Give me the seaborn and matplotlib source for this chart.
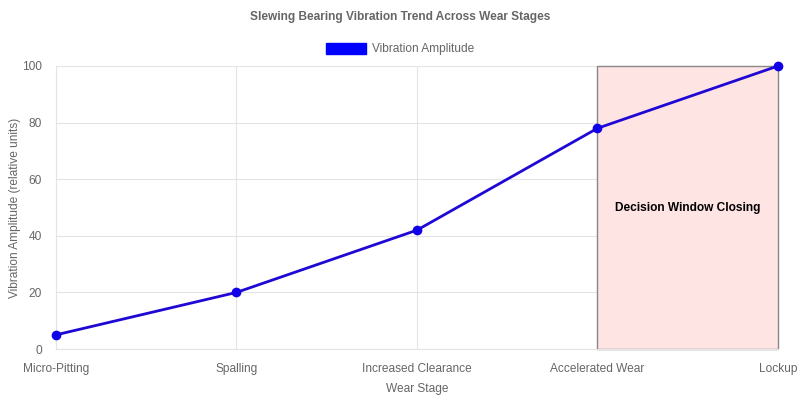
import matplotlib
matplotlib.use("Agg")
import matplotlib.pyplot as plt
import matplotlib.patches as mpatches
import pandas as pd
import seaborn as sns

# data
stages = ["Micro-Pitting", "Spalling", "Increased Clearance", "Accelerated Wear", "Lockup"]
amplitude = [5, 20, 42, 78, 100]
window_start = "Accelerated Wear"
window_end = "Lockup"
window_label = "Decision Window Closing"

df = pd.DataFrame({"stage": stages, "amplitude": amplitude})
df["pos"] = range(len(stages))

sns.set_style("white")
plt.rcParams["font.family"] = ["Liberation Sans", "DejaVu Sans"]

grey = "#666666"
grid = "#e4e4e4"
line_col = "#2008d4"
fs = 8.6

fig = plt.figure(figsize=(8, 4), dpi=100)
ax = fig.add_axes([56 / 800, 1 - 349 / 400, 722 / 800, 283 / 400])

# shaded decision window
x0 = stages.index(window_start)
x1 = stages.index(window_end)
ax.add_patch(mpatches.Rectangle((x0, 0), x1 - x0, 100, facecolor="#ffe4e4",
                                edgecolor="#888888", linewidth=1, zorder=1,
                                clip_on=False))
ax.text((x0 + x1) / 2, 50, window_label, ha="center", va="center",
        fontsize=fs, fontweight="bold", color="black", zorder=3)

sns.lineplot(data=df, x="pos", y="amplitude", ax=ax, color=line_col,
             linewidth=2, marker="o", markersize=7, markeredgewidth=0,
             markerfacecolor="#1000e8", zorder=4, legend=False)
for ln in ax.lines:
    ln.set_clip_on(False)

ax.set_xlim(0, len(stages) - 1)
ax.set_ylim(0, 100)
ax.set_xticks(df["pos"])
ax.set_xticklabels(stages)
ax.set_yticks(range(0, 101, 20))
ax.grid(True, color=grid, linewidth=0.8)
ax.set_axisbelow(True)
for s in ax.spines.values():
    s.set_visible(False)
ax.spines["left"].set_visible(True)
ax.spines["left"].set_color(grid)
ax.spines["bottom"].set_visible(True)
ax.spines["bottom"].set_color(grid)
ax.tick_params(axis="both", colors=grid, labelcolor=grey, labelsize=fs,
               length=7, width=0.8, pad=3)

ax.set_xlabel("Wear Stage", color=grey, fontsize=fs, labelpad=6)
ax.set_ylabel("Vibration Amplitude (relative units)", color=grey, fontsize=fs, labelpad=1)

fig.text(0.5, 1 - 17 / 400, "Slewing Bearing Vibration Trend Across Wear Stages",
         ha="center", va="center", fontsize=fs, fontweight="bold", color=grey)

handle = mpatches.Patch(facecolor="#0000ff", edgecolor="#0000ff", label="Vibration Amplitude")
fig.legend(handles=[handle], loc="center", bbox_to_anchor=(0.5, 1 - 49 / 400),
           frameon=False, fontsize=fs, labelcolor=grey, handlelength=3.4,
           handleheight=1.1, handletextpad=0.5)

fig.savefig("out.png", dpi=100)
